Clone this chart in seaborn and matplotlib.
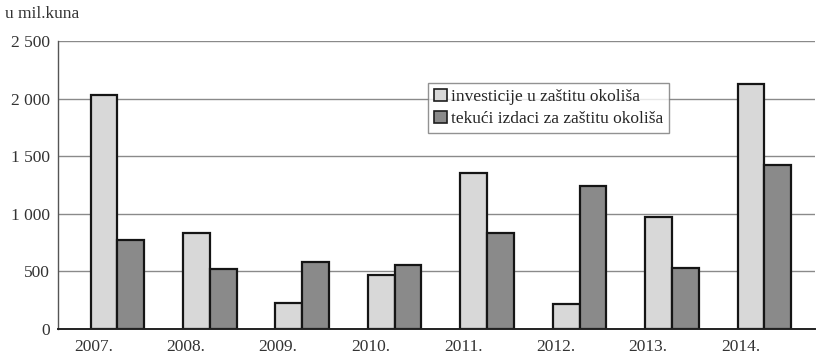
import pandas as pd
import numpy as np
import matplotlib.pyplot as plt
import seaborn as sns

years = ['2007.', '2008.', '2009.', '2010.', '2011.', '2012.', '2013.', '2014.']
investicije = [2035, 830, 225, 465, 1355, 215, 970, 2125]
tekuci = [770, 525, 580, 555, 835, 1240, 530, 1420]
series = ['investicije u zaštitu okoliša', 'tekući izdaci za zaštitu okoliša']
yticks = [0, 500, 1000, 1500, 2000, 2500]
ytick_labels = ['0', '500', '1 000', '1 500', '2 000', '2 500']

df = pd.DataFrame({
    'godina': years * 2,
    'vrijednost': investicije + tekuci,
    'serija': [series[0]] * len(years) + [series[1]] * len(years),
})

sns.set_style('white')
plt.rcParams['font.family'] = ['Liberation Serif', 'DejaVu Serif']

fig = plt.figure(figsize=(8.31, 3.6), dpi=100)
ax = fig.add_axes([0.07, 0.086, 0.911, 0.8])

ax.yaxis.grid(True, color='#8a8a8a', linewidth=1.0)
ax.set_axisbelow(True)

sns.barplot(data=df, x='godina', y='vrijednost', hue='serija', ax=ax,
            palette=['#d8d8d8', '#8a8a8a'], width=0.58, edgecolor='#151515',
            linewidth=1.6, saturation=1, legend=False)

ax.set_xlim(-0.64, 7.55)
ax.set_ylim(0, 2500)
ax.set_yticks(yticks)
ax.set_yticklabels(ytick_labels, fontsize=12.5, color='#333333')

n = len(years)
ax.set_xticks(np.arange(n) - 0.26)
ax.set_xticklabels(years, fontsize=12.5, color='#333333')
ax.tick_params(axis='x', length=0, pad=7)
ax.set_xticks(np.arange(n) + 0.33, minor=True)
ax.tick_params(axis='x', which='minor', length=4, direction='out', color='#777777')
ax.tick_params(axis='y', length=4, direction='out', color='#555555', pad=2)

ax.set_xlabel('')
ax.set_ylabel('')
for s in ['top', 'right']:
    ax.spines[s].set_visible(False)
ax.spines['left'].set_color('#555555')
ax.spines['left'].set_linewidth(1.0)
ax.spines['bottom'].set_color('#222222')
ax.spines['bottom'].set_linewidth(1.4)

handles = [plt.Rectangle((0, 0), 1, 1, facecolor=c, edgecolor='#1e1e1e', linewidth=1.2)
           for c in ['#d8d8d8', '#8a8a8a']]
leg = ax.legend(handles, series, loc='upper left', bbox_to_anchor=(0.489, 0.855),
                fontsize=12.5, frameon=True, fancybox=False, handlelength=0.7,
                handleheight=0.7, handletextpad=0.25, borderpad=0.35,
                labelspacing=0.35, borderaxespad=0)
leg.get_frame().set_edgecolor('#777777')
leg.get_frame().set_linewidth(1.0)

fig.text(0.006, 0.962, 'u mil.kuna', fontsize=12.5, color='#333333', va='center')

fig.savefig('out.png', dpi=100)
